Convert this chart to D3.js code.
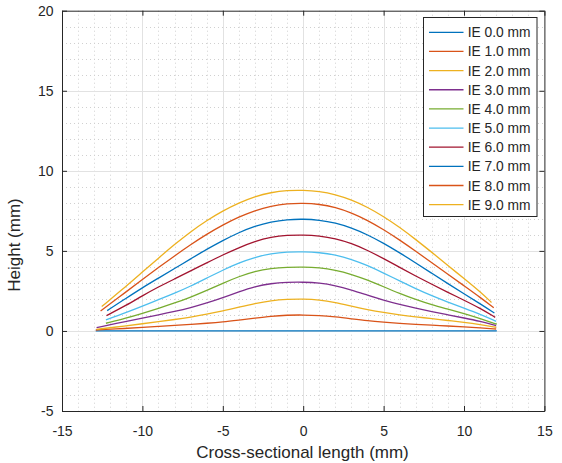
<!DOCTYPE html>
<html><head><meta charset="utf-8">
<script src="https://cdn.jsdelivr.net/npm/d3@7"></script>
<style>
body{margin:0;background:#fff}
svg{display:block}
text{font-family:"Liberation Sans",Arial,Helvetica,sans-serif;fill:#262626}
</style>
</head><body>
<svg id="c" width="562" height="463"></svg>
<script>
// ---------- data ----------
const seriesNames = ["IE 0.0 mm","IE 1.0 mm","IE 2.0 mm","IE 3.0 mm","IE 4.0 mm","IE 5.0 mm","IE 6.0 mm","IE 7.0 mm","IE 8.0 mm","IE 9.0 mm"];
const seriesColors = ["#0072BD","#D95319","#EDB120","#7E2F8E","#77AC30","#4DBEEE","#A2142F","#0072BD","#D95319","#EDB120"];
// interior sample positions (mm)
const xGrid = [-11,-10,-9,-8,-7,-6,-5,-4,-3,-2,-1,0,1,2,3,4,5,6,7,8,9,10,11];
// first and last measured point of each profile [x, height]
const startPts = [[-12.9,0],[-12.9,0.06],[-12.85,0.1],[-12.85,0.21],[-12.27,0.48],[-12.27,0.69],[-12.23,0.96],[-12.19,1.27],[-12.6,1.25],[-12.53,1.52]];
const endPts   = [[12.04,0],[12.0,0.12],[12.0,0.23],[12.0,0.34],[12.04,0.42],[12.0,0.6],[11.94,0.85],[11.89,1.12],[11.85,1.45],[11.71,1.78]];
// heights at xGrid
const ie0 = [0,0,0,0,0,0,0,0,0,0,0,0,0,0,0,0,0,0,0,0,0,0,0];
const ie1 = [0.16,0.22,0.28,0.34,0.41,0.48,0.56,0.68,0.80,0.92,0.99,1.00,0.97,0.88,0.76,0.64,0.55,0.47,0.41,0.36,0.31,0.26,0.20];
const ie2 = [0.32,0.45,0.58,0.71,0.86,1.04,1.24,1.48,1.72,1.90,1.98,2.00,1.95,1.78,1.55,1.33,1.15,1.00,0.88,0.77,0.65,0.54,0.40];
const ie3 = [0.60,0.80,1.00,1.21,1.45,1.74,2.08,2.44,2.77,2.97,3.04,3.05,3.00,2.83,2.55,2.23,1.92,1.65,1.42,1.21,1.01,0.81,0.60];
const ie4 = [0.80,1.10,1.41,1.74,2.11,2.53,2.98,3.40,3.73,3.91,3.98,4.00,3.95,3.80,3.54,3.18,2.76,2.34,1.96,1.63,1.36,1.08,0.77];
const ie5 = [1.15,1.55,1.95,2.35,2.80,3.30,3.80,4.25,4.60,4.83,4.94,4.95,4.90,4.75,4.48,4.09,3.62,3.12,2.64,2.20,1.80,1.42,1.04];
const ie6 = [1.60,2.20,2.75,3.25,3.75,4.25,4.75,5.20,5.60,5.86,5.98,6.00,5.94,5.77,5.47,5.04,4.52,3.97,3.43,2.91,2.41,1.92,1.42];
const ie7 = [2.05,2.70,3.30,3.90,4.50,5.10,5.65,6.15,6.55,6.82,6.96,6.99,6.93,6.75,6.44,6.01,5.48,4.88,4.25,3.60,2.95,2.32,1.70];
const ie8 = [2.45,3.21,3.96,4.69,5.39,6.04,6.62,7.12,7.52,7.80,7.95,7.98,7.92,7.72,7.38,6.91,6.33,5.68,4.98,4.26,3.54,2.82,2.10];
const ie9 = [2.80,3.68,4.55,5.40,6.20,6.90,7.50,8.00,8.40,8.65,8.78,8.79,8.72,8.52,8.19,7.73,7.15,6.47,5.71,4.91,4.09,3.27,2.45];
const seriesValues = [ie0,ie1,ie2,ie3,ie4,ie5,ie6,ie7,ie8,ie9];

const xTicks = [-15,-10,-5,0,5,10,15];
const xTickLabels = ["-15","-10","-5","0","5","10","15"];
const yTicks = [-5,0,5,10,15,20];
const yTickLabels = ["-5","0","5","10","15","20"];
const xLabel = "Cross-sectional length (mm)";
const yLabel = "Height (mm)";

// ---------- layout ----------
const L = 62, R = 544.4, T = 10.7, B = 411;
const svg = d3.select("#c");
svg.append("rect").attr("width",562).attr("height",463).attr("fill","#fff");
const x = d3.scaleLinear().domain([-15,15]).range([L,R]);
const y = d3.scaleLinear().domain([-5,20]).range([B,T]);

const g = svg.append("g");
// minor grid
const minorX = d3.range(-15,16,1).filter(v => v % 5 !== 0);
const minorY = d3.range(-5,21,1).filter(v => v % 5 !== 0);
g.selectAll(".mx").data(minorX).join("line")
  .attr("x1",d=>Math.round(x(d))+0.5).attr("x2",d=>Math.round(x(d))+0.5).attr("y1",T).attr("y2",B)
  .attr("stroke","#d0d0d0").attr("stroke-width",1).attr("stroke-dasharray","1,3");
g.selectAll(".my").data(minorY).join("line")
  .attr("y1",d=>Math.round(y(d))+0.5).attr("y2",d=>Math.round(y(d))+0.5).attr("x1",L).attr("x2",R)
  .attr("stroke","#d0d0d0").attr("stroke-width",1).attr("stroke-dasharray","1,3");
// major grid
g.selectAll(".gx").data(xTicks.slice(1,-1)).join("line")
  .attr("x1",d=>Math.round(x(d))+0.5).attr("x2",d=>Math.round(x(d))+0.5).attr("y1",T).attr("y2",B)
  .attr("stroke","#e2e2e2").attr("stroke-width",1);
g.selectAll(".gy").data(yTicks.slice(1,-1)).join("line")
  .attr("y1",d=>Math.round(y(d))+0.5).attr("y2",d=>Math.round(y(d))+0.5).attr("x1",L).attr("x2",R)
  .attr("stroke","#e2e2e2").attr("stroke-width",1);

// curves
const line = d3.line().x(d=>x(d[0])).y(d=>y(d[1])).curve(d3.curveBasis);
seriesValues.forEach((vals,i) => {
  const pts = [startPts[i], ...xGrid.map((xv,j)=>[xv, vals[j]]), endPts[i]];
  svg.append("path").attr("d", line(pts)).attr("fill","none")
    .attr("stroke", seriesColors[i]).attr("stroke-width",1.3);
});

// axes
const axCol = "#262626";
const axBottom = svg.append("g").attr("transform",`translate(0,${B})`)
  .call(d3.axisBottom(x).tickValues(xTicks).tickFormat((d,i)=>xTickLabels[i]).tickSizeInner(-5).tickSizeOuter(0).tickPadding(15));
const axLeft = svg.append("g").attr("transform",`translate(${L},0)`)
  .call(d3.axisLeft(y).tickValues(yTicks).tickFormat((d,i)=>yTickLabels[i]).tickSizeInner(-5).tickSizeOuter(0).tickPadding(8.5));
const axTop = svg.append("g").attr("transform",`translate(0,${T})`)
  .call(d3.axisTop(x).tickValues(xTicks).tickFormat("").tickSizeInner(-5).tickSizeOuter(0));
const axRight = svg.append("g").attr("transform",`translate(${R},0)`)
  .call(d3.axisRight(y).tickValues(yTicks).tickFormat("").tickSizeInner(-5).tickSizeOuter(0));
[axBottom,axLeft,axTop,axRight].forEach(a => {
  a.select(".domain").attr("stroke",axCol).attr("stroke-width",1);
  a.selectAll(".tick line").attr("stroke",axCol);
  a.selectAll("text").attr("font-size","14px").attr("fill",axCol)
    .attr("font-family","'Liberation Sans',Arial,Helvetica,sans-serif");
});

// axis titles
svg.append("text").attr("x",302.5).attr("y",458).attr("text-anchor","middle")
  .attr("font-size","17px").text(xLabel);
svg.append("text").attr("transform","translate(19.5,245) rotate(-90)").attr("text-anchor","middle")
  .attr("font-size","17px").text(yLabel);

// legend
const lg = svg.append("g");
lg.append("rect").attr("x",423.5).attr("y",17.5).attr("width",113.5).attr("height",199)
  .attr("fill","#fff").attr("stroke",axCol).attr("stroke-width",1);
seriesNames.forEach((nm,i) => {
  const cy = 32.3 + i*19.15;
  lg.append("line").attr("x1",429).attr("x2",463.5).attr("y1",cy).attr("y2",cy)
    .attr("stroke",seriesColors[i]).attr("stroke-width",1.3);
  lg.append("text").attr("x",467.7).attr("y",cy+5).attr("font-size","13.8px").text(nm);
});
</script>
</body></html>
